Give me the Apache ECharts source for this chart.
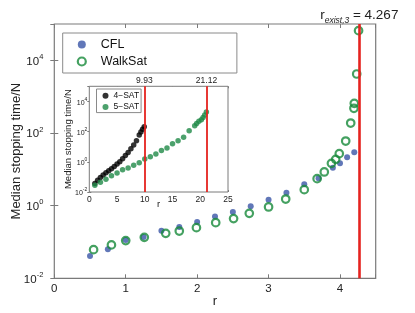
<!DOCTYPE html>
<html><head><meta charset="utf-8">
<script src="https://cdn.jsdelivr.net/npm/echarts@6/dist/echarts.min.js"></script>
<style>html,body{margin:0;padding:0;background:#fff}#c{width:415px;height:313px}</style>
</head><body><div id="c"></div>
<script>
// ---- main chart data (3-SAT) ----
const cflR = [0.5,0.75,1.0,1.25,1.5,1.75,2.0,2.25,2.5,2.75,3.0,3.25,3.5,3.7,3.9,4.0,4.1,4.2];
const cflV = [0.041,0.063,0.113,0.137,0.205,0.259,0.355,0.50,0.67,0.955,1.46,2.28,3.87,5.65,11.1,14.6,21.4,29.4];
const wsR  = [0.55,0.8,1.0,1.26,1.56,1.75,1.99,2.26,2.51,2.73,3.0,3.24,3.5,3.68,3.78,3.88,3.94,3.99,4.08,4.15,4.195,4.2,4.234,4.26];
const wsV  = [0.0615,0.083,0.109,0.134,0.173,0.20,0.248,0.34,0.44,0.615,0.92,1.52,2.75,5.54,8.45,14.6,18.8,27,60,188,478,656,4210,65600];
const rExist3 = 4.267;
// ---- inset data ----
const sat4R = [1.0,1.5,2.0,2.5,3.0,3.5,4.0,4.5,5.0,5.5,6.0,6.5,7.0,7.5,8.0,8.5,9.0,9.3,9.6,9.9];
const sat4V = [0.037,0.060,0.091,0.132,0.186,0.251,0.347,0.49,0.71,1.02,1.58,2.57,4.17,7.24,12.9,25.1,58.9,93.3,141,210];
const sat5R = [1,2,3,4,5,6,7,8,9,10,11,12,13,14,15,16,17,18,19,19.35,19.75,20.2,20.5,20.8,21.1];
const sat5V = [0.0275,0.0437,0.069,0.120,0.182,0.302,0.389,0.589,0.871,1.55,2.19,3.31,5.50,8.13,15.8,25.1,41.7,115,245,339,479,617,871,1259,1995];
const rc4 = 9.93, rc5 = 21.12;
// ---- tick labels ----
const mainXTicks = [0,1,2,3,4];
const insetXTicks = [0,5,10,15,20,25];

const F = '"Liberation Sans", Arial, sans-serif';
const TXT = '#222';
const FRAME = '#7a7a7a';
const zip = (a,b) => a.map((x,i)=>[x,b[i]]);
const supFmt = v => { const e = Math.round(Math.log10(v)); return '{b|10}{s|' + (e<0?'-':'') + Math.abs(e) + '}'; };

function xAx(grid, pos, min, max, iv, ticks, lab, fs, len, mg) {
  return {gridIndex:grid, type:'value', position:pos, min:min, max:max, interval:iv,
    axisLine:{show:false}, splitLine:{show:false}, nameMoveOverlap:false,
    axisTick:{show:true, inside:true, length:len, lineStyle:{color:FRAME, width:1}},
    axisLabel:{show:lab, fontSize:fs, color:TXT, fontFamily:F, margin: mg, showMaxLabel:true,
      formatter: v => ticks.indexOf(v) >= 0 ? String(v) : ''}};
}
function yAx(grid, pos, lab, fsb, fss, len, lh, mg) {
  return {gridIndex:grid, type:'log', logBase:10, position:pos, min:0.01, max:1e5, interval:2,
    axisLine:{show:false}, splitLine:{show:false}, nameMoveOverlap:false,
    axisTick:{show:true, inside:true, length:len, lineStyle:{color:FRAME, width:1}},
    axisLabel:{show:lab, showMaxLabel:false, margin: mg, fontFamily:F, color:TXT,
      formatter: supFmt,
      rich:{b:{fontSize:fsb, fontFamily:F, color:TXT, lineHeight:lh, verticalAlign:'bottom'},
            s:{fontSize:fss, fontFamily:F, color:TXT, lineHeight:fss, verticalAlign:'top'}}}};
}

const mX0 = xAx(0,'bottom',0,4.5,1,mainXTicks,true,11.5,4,5);
mX0.name = 'r'; mX0.nameLocation='middle'; mX0.nameGap=16.5;
mX0.nameTextStyle = {fontSize:13, color:TXT, fontFamily:F};
const mY0 = yAx(0,'left',true,11.5,7.5,4,14.5,11);
mY0.name = 'Median stopping time/N'; mY0.nameLocation='middle'; mY0.nameGap=31;
mY0.nameTextStyle = {fontSize:13, color:TXT, fontFamily:F};
const iX0 = xAx(1,'bottom',0,25,5,insetXTicks,true,8.5,2,3);
iX0.name = 'r'; iX0.nameLocation='middle'; iX0.nameGap=7;
iX0.nameTextStyle = {fontSize:9.5, color:TXT, fontFamily:F};
const iY0 = yAx(1,'left',true,7,5,2,9.5,2);
iY0.name = 'Median stopping time/N'; iY0.nameLocation='middle'; iY0.nameGap=15.5;
iY0.nameTextStyle = {fontSize:9.5, color:TXT, fontFamily:F};

const redLine = (x, fs, fmt, rich, dist, w) => ({
  silent:true, symbol:['none','none'], animation:false,
  lineStyle:{color:'#e5231f', width:w, type:'solid'},
  label:{show:true, position:'end', formatter: fmt, distance: dist, fontFamily:F, fontSize:fs, color:TXT, rich: rich},
  data:[{xAxis:x}]
});

const chart = echarts.init(document.getElementById('c'), null, {renderer:'canvas'});
chart.setOption({
  animation:false,
  backgroundColor:'#fff',
  grid:[
    {left:54.3, top:24, right:39.3, bottom:34.7, show:true, borderColor:FRAME, borderWidth:1.2, backgroundColor:'#fff', z:0, outerBoundsMode:'none', containLabel:false},
    {left:89.3, top:86.3, width:138.7, height:105.7, show:true, borderColor:FRAME, borderWidth:1, backgroundColor:'#fff', z:2, outerBoundsMode:'none', containLabel:false}
  ],
  xAxis:[mX0, xAx(0,'top',0,4.5,1,mainXTicks,false,11.5,4,5), iX0, xAx(1,'top',0,25,5,insetXTicks,false,8.5,2,3)],
  yAxis:[mY0, yAx(0,'right',false,11.5,7.5,4,14.5,11), iY0, yAx(1,'right',false,7,5,2,9.5,2)],
  legend:[
    {data:[{name:'CFL', icon:'circle'},
           {name:'WalkSat', icon:'circle', itemStyle:{color:'rgba(0,0,0,0)', borderColor:'#178a3a', borderWidth:2.2}}],
     orient:'vertical', left:62.7, top:33, itemWidth:8, itemHeight:8, itemGap:0,
     padding:[3,90,3,14], borderColor:'#8a8a8a', borderWidth:1, backgroundColor:'#fff',
     textStyle:{fontSize:12.5, fontFamily:F, color:'#111', lineHeight:17, padding:[0,0,0,10]}, selectedMode:false, z:5},
    {data:['4\u2212SAT','5\u2212SAT'],
     orient:'vertical', left:96.5, top:89, itemWidth:6, itemHeight:6, itemGap:0,
     padding:[1,2,0,6], borderColor:'#8a8a8a', borderWidth:1, backgroundColor:'#fff',
     textStyle:{fontSize:8.5, fontFamily:F, color:'#111', lineHeight:11.3, padding:[0,0,0,0]}, selectedMode:false, z:6}
  ],
  series:[
    {name:'CFL', type:'scatter', xAxisIndex:0, yAxisIndex:0, symbol:'circle', symbolSize:6,
     itemStyle:{color:'#3a55a6'}, data: zip(cflR, cflV), z:2},
    {name:'WalkSat', type:'scatter', xAxisIndex:0, yAxisIndex:0, symbol:'circle', symbolSize:7.5,
     itemStyle:{color:'rgba(0,0,0,0)', borderColor:'#178a3a', borderWidth:2.2}, data: zip(wsR, wsV), z:3,
     markLine: redLine(rExist3, 13, '{r|r}{sub|exist,3}{t| = 4.267}',
        {r:{fontSize:13.5, fontFamily:F, color:TXT, lineHeight:15, verticalAlign:'top'},
         sub:{fontSize:8.5, fontStyle:'italic', fontFamily:F, color:TXT, lineHeight:16.5, verticalAlign:'bottom'},
         t:{fontSize:13.5, fontFamily:F, color:TXT, lineHeight:15, verticalAlign:'top'}}, -1, 2.6)},
    {name:'4\u2212SAT', type:'scatter', xAxisIndex:2, yAxisIndex:2, symbol:'circle', symbolSize:5.5,
     itemStyle:{color:'#000'}, data: zip(sat4R, sat4V), z:4,
     markLine: redLine(rc4, 8.5, '9.93', null, 1, 1.8)},
    {name:'5\u2212SAT', type:'scatter', xAxisIndex:2, yAxisIndex:2, symbol:'circle', symbolSize:5.5,
     itemStyle:{color:'#1f8a47'}, data: zip(sat5R, sat5V), z:4,
     markLine: redLine(rc5, 8.5, '21.12', null, 1, 1.8)}
  ]
});
</script>
</body></html>
